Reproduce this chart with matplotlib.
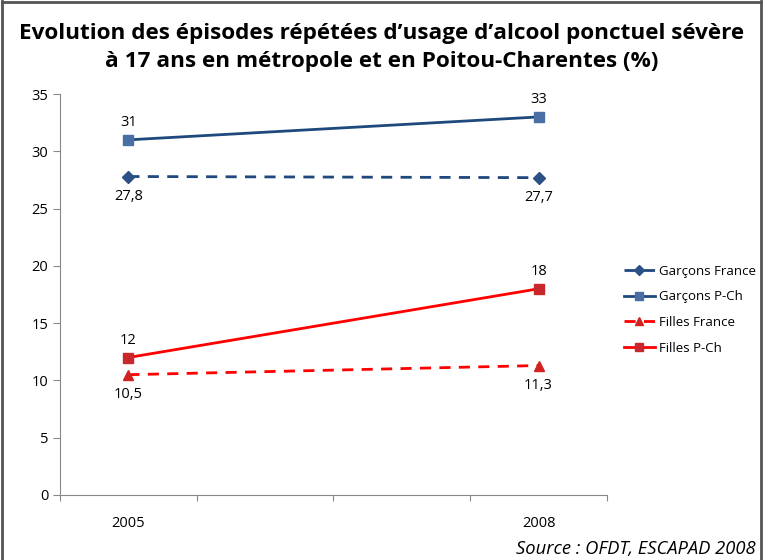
import matplotlib.pyplot as plt
from matplotlib.lines import Line2D

# categories on the axis (2006 and 2007 have no data)
years = ["2005", "", "", "2008"]
x_pos = [0, 3]

garcons_france = [27.8, 27.7]
garcons_pch = [31, 33]
filles_france = [10.5, 11.3]
filles_pch = [12, 18]

plt.rcParams['font.family'] = ['Open Sans', 'DejaVu Sans']

fig = plt.figure(figsize=(7.63, 5.60), dpi=100)
ax = fig.add_axes([0.0786, 0.1161, 0.7169, 0.716])

dark_blue = "#1F497D"
red = "#FF0000"

ax.plot(x_pos, garcons_france, linestyle=(0, (4, 3)), color=dark_blue, lw=2,
        marker="D", markersize=6, markerfacecolor="#2B5185", markeredgecolor="#2B5185",
        label="Garçons France")
ax.plot(x_pos, garcons_pch, linestyle="-", color=dark_blue, lw=2,
        marker="s", markersize=7, markerfacecolor="#4A6FA5", markeredgecolor="#4A6FA5",
        label="Garçons P-Ch")
ax.plot(x_pos, filles_france, linestyle=(0, (4, 3)), color=red, lw=2,
        marker="^", markersize=7, markerfacecolor="#D32020", markeredgecolor="#D32020",
        label="Filles France")
ax.plot(x_pos, filles_pch, linestyle="-", color=red, lw=2,
        marker="s", markersize=7, markerfacecolor="#C8282C", markeredgecolor="#C8282C",
        label="Filles P-Ch")

def fmt(v):
    return (f"{v:g}").replace(".", ",")

for series, above in [(garcons_france, False), (garcons_pch, True),
                      (filles_france, False), (filles_pch, True)]:
    for xp, v in zip(x_pos, series):
        ax.annotate(fmt(v), (xp, v), xytext=(0, 7 if above else -9),
                    textcoords="offset points", ha="center",
                    va="bottom" if above else "top", fontsize=10.5)

ax.set_xlim(-0.5, 3.5)
ax.set_ylim(0, 35)
ax.set_yticks(range(0, 36, 5))
ax.set_xticks([-0.5, 0.5, 1.5, 2.5, 3.5])
ax.set_xticklabels([])
ax.set_xticks(range(4), minor=True)
ax.set_xticklabels(years, minor=True)
ax.tick_params(axis="x", which="minor", length=0, pad=15, labelsize=10.5)
ax.tick_params(axis="x", which="major", length=4, direction="out", color="#888888")
ax.tick_params(axis="y", length=5, direction="out", color="#888888", labelsize=10.5)
for s in ["top", "right"]:
    ax.spines[s].set_visible(False)
for s in ["left", "bottom"]:
    ax.spines[s].set_color("#888888")

ax.legend(loc="center left", bbox_to_anchor=(1.01, 0.462), frameon=False,
          fontsize=9.5, handlelength=2.3, labelspacing=0.95, handletextpad=0.35,
          markerscale=0.8)

fig.text(0.5, 0.915, "Evolution des épisodes répétées d’usage d’alcool ponctuel sévère\n"
         "à 17 ans en métropole et en Poitou-Charentes (%)",
         ha="center", va="center", fontsize=16.2, fontweight="bold", linespacing=1.45)
fig.text(0.99, 0.02, "Source : OFDT, ESCAPAD 2008", ha="right", va="center",
         fontsize=13.2, style="italic")

# outer frame (bottom edge is cut off in the original)
for xs, ys in [([0.002, 0.002], [0, 0.998]), ([0.002, 0.997], [0.997, 0.997]),
               ([0.997, 0.997], [0, 0.998])]:
    fig.add_artist(Line2D(xs, ys, color="#555555", lw=2, transform=fig.transFigure))

fig.savefig("out.png", dpi=100)
